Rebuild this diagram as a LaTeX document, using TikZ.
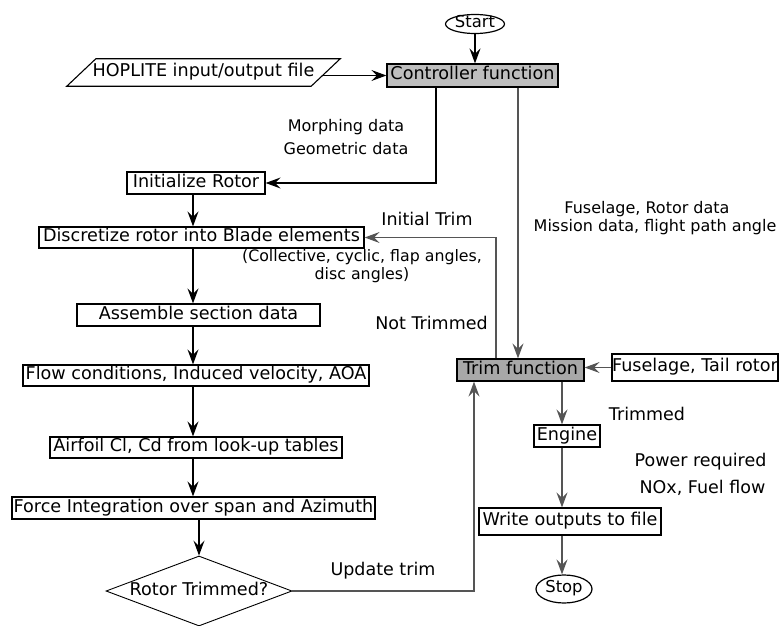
\documentclass[tikz,border=0pt]{standalone}
\usepackage{fontspec}
\setmainfont{DejaVu Sans}
\usetikzlibrary{shapes.geometric,arrows.meta}
\definecolor{lineg}{RGB}{85,85,85}
\definecolor{ctrlfill}{RGB}{190,190,190}
\definecolor{trimfill}{RGB}{168,168,168}
\tikzset{
  box/.style={draw=black, line width=1.2pt, inner sep=0pt, text height=12pt, text depth=3.5pt, font=\fontsize{17.6}{20}\selectfont},
  lbl/.style={inner sep=0pt, text height=11.5pt, text depth=3.5pt, font=\fontsize{16}{20}\selectfont},
  biglbl/.style={lbl, text height=12pt, font=\fontsize{17.5}{20}\selectfont},
  arr/.style={line width=1.2pt, -{Stealth[length=15pt,width=11pt,inset=5.5pt]}},
  garr/.style={arr, draw=lineg},
}
\begin{document}
\begin{tikzpicture}[x=1pt,y=-1pt]
\useasboundingbox (0,0) rectangle (779,626);
% nodes
\node[box, ellipse, minimum width=59, minimum height=19, text height=10pt, text depth=3pt, font=\fontsize{16.4}{18}\selectfont] (start) at (475,24) {Start};
\node[box, fill=ctrlfill, minimum width=171, minimum height=23] (ctrl) at (472.5,75.5) {Controller function};
\node[inner sep=0pt, minimum width=244, minimum height=27, text height=12pt, text depth=3.5pt, font=\fontsize{17.6}{20}\selectfont] (hop) at (203.5,72.5) {HOPLITE input/output file};
\draw[line width=1.1pt] ([xshift=14.5pt]hop.north west) -- ([xshift=14.5pt]hop.north east) -- ([xshift=-14.5pt]hop.south east) -- ([xshift=-14.5pt]hop.south west) -- cycle;
\node[box, minimum width=138, minimum height=22] (init) at (196,183) {Initialize Rotor};
\node[box, minimum width=325, minimum height=21] (disc) at (201.5,237.5) {Discretize rotor into Blade elements};
\node[box, minimum width=243, minimum height=22] (asm) at (198.5,315) {Assemble section data};
\node[box, minimum width=346, minimum height=21] (flow) at (196,375.5) {Flow conditions, Induced velocity, AOA};
\node[box, minimum width=292, minimum height=21] (airf) at (196,447.5) {Airfoil Cl, Cd from look-up tables};
\node[box, minimum width=363, minimum height=22] (force) at (193.5,508) {Force Integration over span and Azimuth};
\node[box, diamond, aspect=2.66, minimum width=186, minimum height=70, line width=0.9pt, text height=11pt, text depth=3pt] (dia) at (199,591) {Rotor Trimmed?};
\node[box, fill=trimfill, minimum width=127, minimum height=22] (trim) at (520.5,370) {Trim function};
\node[box, minimum width=166, minimum height=27] (fuse) at (695,367.5) {Fuselage, Tail rotor};
\node[box, minimum width=66, minimum height=22] (eng) at (567,436) {Engine};
\node[box, minimum width=182, minimum height=27] (write) at (570,521.5) {Write outputs to file};
\node[box, ellipse, minimum width=56, minimum height=28, text height=10pt, text depth=3pt, font=\fontsize{16.4}{18}\selectfont] (stop) at (564,589) {Stop};
% labels
\node[lbl, align=center, font=\fontsize{16}{23}\selectfont] (l1) at (346,150.5) {Morphing data\\Geometric data};
\node[biglbl] (l2) at (427,221) {Initial Trim};
\node[lbl] (l3) at (647,209) {Fuselage, Rotor data};
\node[lbl] (l4) at (655,227) {Mission data, flight path angle};
\node[lbl, align=center, font=\fontsize{15.8}{18}\selectfont, text height=11pt] (l5) at (362,276) {(Collective, cyclic, flap angles,\\disc angles)};
\node[biglbl] (l6) at (431.5,325) {Not Trimmed};
\node[biglbl] (l7) at (383,571) {Update trim};
\node[biglbl] (l8) at (647,416) {Trimmed};
\node[biglbl] (l9) at (700.5,462) {Power required};
\node[biglbl] (l10) at (702.5,489) {NOx, Fuel flow};
% connectors
\coordinate (colx) at (193,0);
\coordinate (rx) at (562,0);
\draw[arr] (start.south) -- (start.south |- ctrl.north);
\draw[arr] ([xshift=-3pt]hop.east |- ctrl.west) -- (ctrl.west);
\draw[arr] ([xshift=-36.5pt]ctrl.south) |- (init.east);
\draw[garr] ([xshift=45.5pt]ctrl.south) -- ([xshift=45.5pt]ctrl.south |- trim.north);
\draw[garr] ([xshift=-24.5pt]trim.north) |- (disc.east);
\draw[arr] (init.south -| colx) -- (disc.north -| colx);
\draw[arr] (disc.south -| colx) -- (asm.north -| colx);
\draw[arr] (asm.south -| colx) -- (flow.north -| colx);
\draw[arr] (flow.south -| colx) -- (airf.north -| colx);
\draw[arr] (airf.south -| colx) -- (force.north -| colx);
\draw[arr] (force.south -| dia.north) -- (dia.north);
\draw[garr] (dia.east) -| ([xshift=-46.5pt]trim.south);
\draw[garr] (fuse.west) -- (fuse.west -| trim.east);
\draw[garr] (trim.south -| rx) -- (eng.north -| rx);
\draw[garr] (eng.south -| rx) -- (write.north -| rx);
\draw[garr] (write.south -| rx) -- (stop.north -| rx);
\end{tikzpicture}
\end{document}
